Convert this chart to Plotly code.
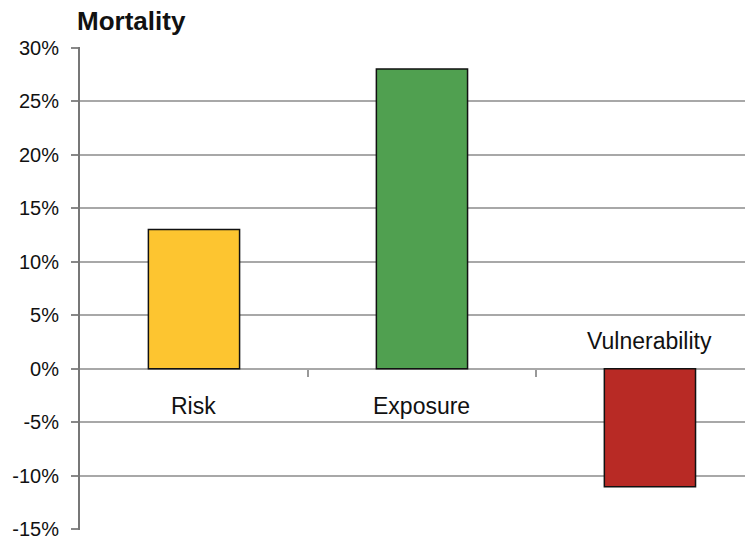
import plotly.graph_objects as go

categories = ["Risk", "Exposure", "Vulnerability"]
values = [13, 28, -11]
colors = ["#FDC530", "#50A050", "#B82A25"]
label_side = ["below", "below", "above"]
tick_vals = [-15, -10, -5, 0, 5, 10, 15, 20, 25, 30]
tick_text = [f"{v}%" for v in tick_vals]
title_text = "Mortality"

W, H = 745, 544
ML, MR, MT, MB = 80, 0, 47, 14

fig = go.Figure()
fig.add_trace(go.Bar(
    x=list(range(len(categories))),
    y=values,
    width=0.4,
    marker=dict(color=colors, line=dict(color="#111111", width=1.5)),
    hoverinfo="skip",
))

for i, (c, side) in enumerate(zip(categories, label_side)):
    fig.add_annotation(
        x=i, y=0, xref="x", yref="y", text=c, showarrow=False,
        yanchor="middle", xanchor="center",
        yshift=-37 if side == "below" else 28,
        font=dict(family="Liberation Sans, Arial, sans-serif", size=23, color="#111111"),
    )

fig.update_layout(
    width=W, height=H,
    margin=dict(l=ML, r=MR, t=MT, b=MB, autoexpand=False),
    paper_bgcolor="white", plot_bgcolor="white",
    showlegend=False,
    title=dict(
        text=f"<b>{title_text}</b>",
        x=77 / W, xref="container", xanchor="left",
        y=1 - 21 / H, yref="container", yanchor="middle",
        font=dict(family="Liberation Sans, Arial, sans-serif", size=26, color="#111111"),
    ),
    xaxis=dict(
        range=[-0.5, 2.917 - 0.5],
        showgrid=False, zeroline=False, showline=False,
        showticklabels=False, automargin=False,
        anchor="free", position=15 / 45,
        tickmode="array", tickvals=[0.5, 1.5],
        ticks="outside", ticklen=7, tickwidth=1.5, tickcolor="#999999",
    ),
    yaxis=dict(
        range=[-15.05, 30.05],
        tickmode="array", tickvals=tick_vals, ticktext=tick_text,
        showgrid=True, gridcolor="#a8a8a8", gridwidth=2,
        zeroline=True, zerolinecolor="#a8a8a8", zerolinewidth=2,
        showline=True, linecolor="#777777", linewidth=2,
        ticks="outside", ticklen=7, tickwidth=2, tickcolor="#888888",
        ticklabelstandoff=8,
        automargin=False,
        tickfont=dict(family="Liberation Sans, Arial, sans-serif", size=20, color="#111111"),
    ),
)

fig.write_html(
    "out.html",
    config={"displayModeBar": False},
    post_script="document.body.style.margin='0px';document.body.style.overflow='hidden';",
)
